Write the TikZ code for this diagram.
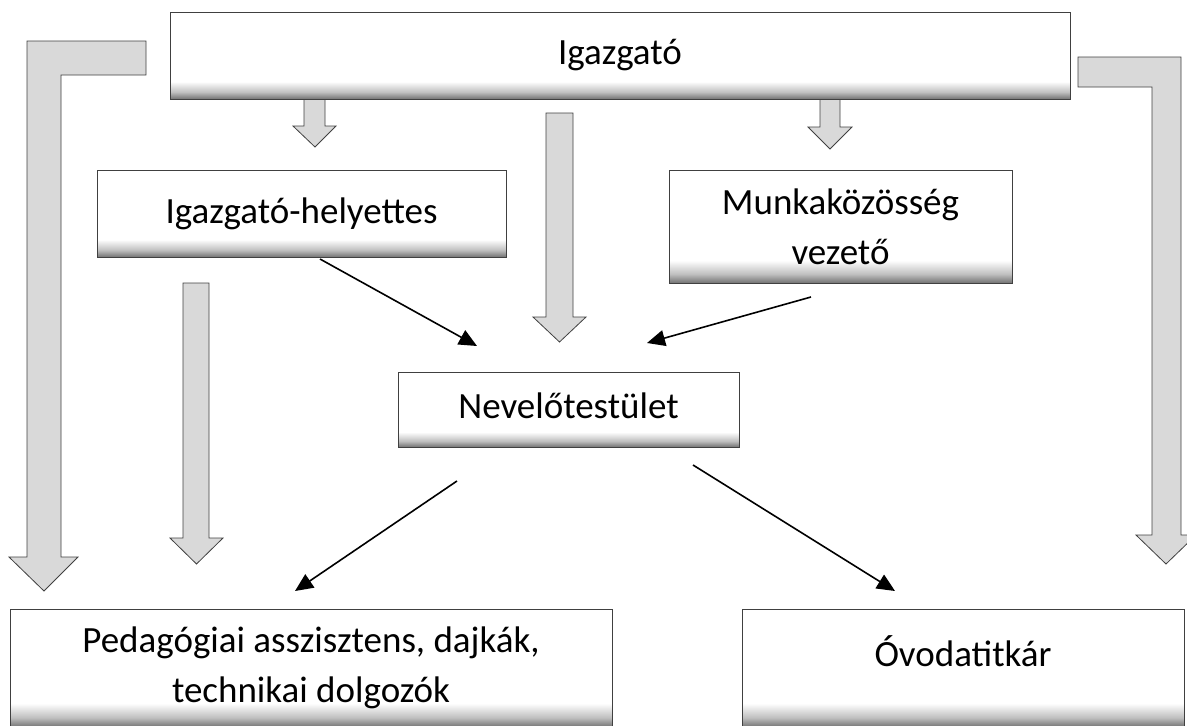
\documentclass[tikz,border=0pt]{standalone}
\usepackage{fontspec}
\setmainfont{Carlito}
\usepackage{tikz}
\usetikzlibrary{arrows.meta}

\pgfdeclareverticalshading{boxshade}{100bp}{color(0bp)=(black!55); color(25bp)=(black!55); color(29bp)=(black!25); color(35bp)=(white); color(100bp)=(white)}

\begin{document}
\begin{tikzpicture}[x=1pt, y=-1pt, >=Stealth,
  box/.style  = {draw=black!75, line width=0.8pt, shading=boxshade, align=center,
                 inner sep=0pt, font=\fontsize{37}{50}\selectfont},
  blk/.style  = {draw=black!75, line width=0.8pt, fill=black!15},
  conn/.style = {line width=1.6pt, -{Triangle[length=18pt,width=16pt]}}
]
\useasboundingbox (0,0) rectangle (1187,726);

%% --- Block arrows ---
\draw[blk] (27,41) -- (146,41) -- (146,75) -- (61,75) -- (61,557) -- (78,557)
  -- (44,591) -- (9,557) -- (27,557) -- cycle;
\draw[blk] (1078,57) -- (1181,57) -- (1181,535) -- (1196,535) -- (1166,564)
  -- (1136,535) -- (1152,535) -- (1152,87) -- (1078,87) -- cycle;
\draw[blk] (304,97) -- (325,97) -- (325,126) -- (336,126) -- (315,147)
  -- (293,126) -- (304,126) -- cycle;
\draw[blk] (820,98) -- (840,98) -- (840,127) -- (852,127) -- (830,149)
  -- (808,127) -- (820,127) -- cycle;
\draw[blk] (546,113) -- (573,113) -- (573,317) -- (586,317) -- (559.5,342)
  -- (533,317) -- (546,317) -- cycle;
\draw[blk] (183,283) -- (209,283) -- (209,538) -- (223,538) -- (196.5,564)
  -- (170,538) -- (183,538) -- cycle;

%% --- Boxes ---
\node[box, minimum width=900, minimum height=87] (igazgato)  at (620,55.5)   {Igazgató};
\node[box, minimum width=409, minimum height=87] (helyettes) at (301.5,213.5) {Igazgató-helyettes};
\node[box, minimum width=343, minimum height=113] (munka)    at (840.5,226.5) {Munkaközösség\\vezető};
\node[box, minimum width=341, minimum height=75, text depth=8pt] (nevelo) at (568.5,409.5) {Nevelőtestület};
\node[box, minimum width=602, minimum height=118] (pedag)    at (311,668)     {Pedagógiai asszisztens, dajkák,\\technikai dolgozók};
\node[box, minimum width=442, minimum height=118, text height=20pt, text depth=24pt] (ovoda) at (963,668) {Óvodatitkár};

%% --- Connector ends ---
\coordinate (hs) at (320,259);
\coordinate (nw) at (477,346);
\coordinate (ms) at (811,297);
\coordinate (ne) at (647,343);
\coordinate (ns1) at (457,481);
\coordinate (pt) at (295,591);
\coordinate (ns2) at (693,465);
\coordinate (ot) at (895,591);

%% --- Connectors ---
\draw[conn] (hs) -- (nw);
\draw[conn] (ms) -- (ne);
\draw[conn] (ns1) -- (pt);
\draw[conn] (ns2) -- (ot);
\end{tikzpicture}
\end{document}
